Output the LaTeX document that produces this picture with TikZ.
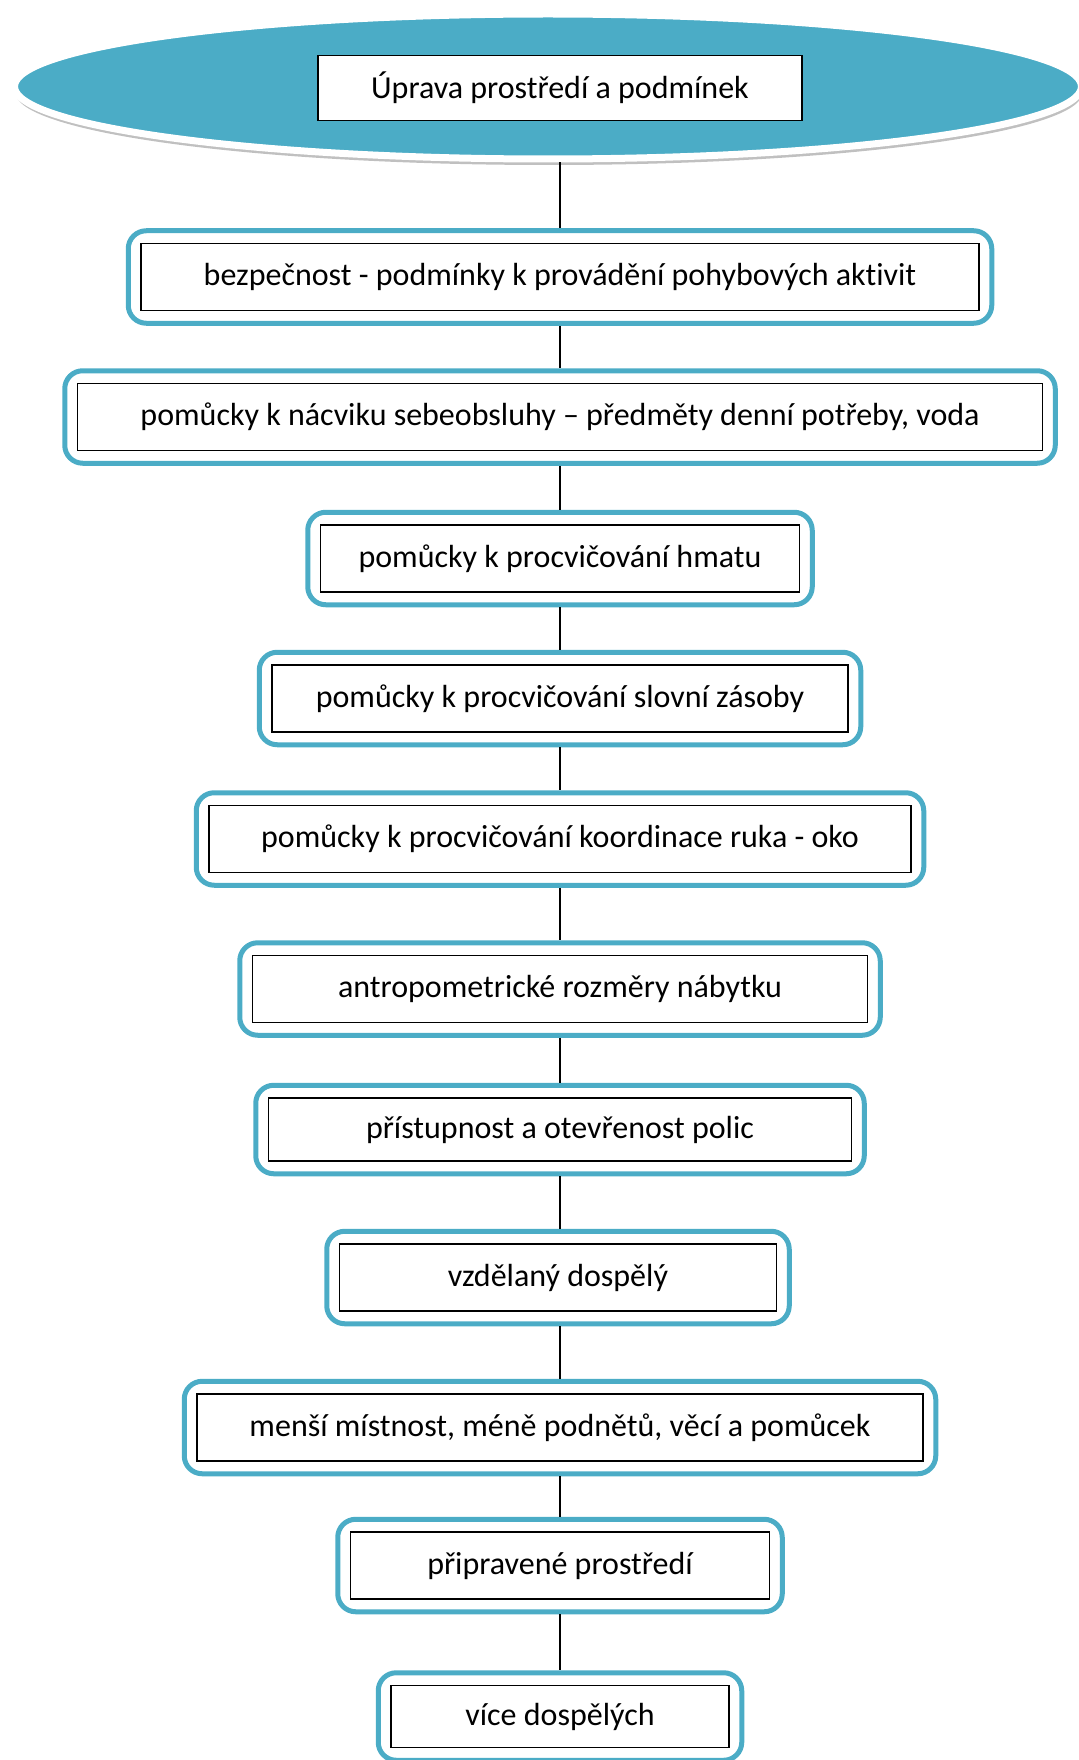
\documentclass[tikz,border=0pt]{standalone}
\usepackage{fontspec}
\setmainfont[Ligatures=NoCommon]{Carlito}
\usetikzlibrary{shapes.geometric,shadows,fit,positioning}
\definecolor{AccentTeal}{RGB}{75,172,198}
\tikzset{
  ibox/.style={draw=black,fill=white,line width=0.75pt,minimum height=33.5pt,
               inner sep=0pt,font=\fontsize{16}{19}\selectfont,text centered},
  obox/.style={draw=AccentTeal,rounded corners=9pt,line width=2.5pt,inner sep=6pt},
  ellbox/.style={ellipse,fill=AccentTeal,draw=white,line width=3.5pt,
               minimum width=533.5pt,minimum height=72.5pt,
               drop shadow={shadow xshift=0.5pt,shadow yshift=-3pt,opacity=0.45,fill=black!55}},
  conn/.style={black,line width=0.75pt},
}

\begin{document}
\begin{tikzpicture}[x=0.5pt,y=-0.5pt]
  \useasboundingbox (0,0) rectangle (1079,1760);
  \clip (0,0) rectangle (1079,1760);
  \node[ellbox] (e) at (548,86.5) {};
  \node[ibox,minimum width=242pt,minimum height=32.5pt] (t) at (560,88) {Úprava prostředí a podmínek};
  \node[ibox,minimum width=419pt] (a) at (560,277) {bezpečnost - podmínky k provádění pohybových aktivit};
  \node[ibox,minimum width=482.5pt] (b) at (560,417) {pomůcky k nácviku sebeobsluhy – předměty denní potřeby, voda};
  \node[ibox,minimum width=239.5pt] (c) at (560,558.5) {pomůcky k procvičování hmatu};
  \node[ibox,minimum width=288pt] (d) at (560,698.5) {pomůcky k procvičování slovní zásoby};
  \node[ibox,minimum width=351pt] (f) at (560,839) {pomůcky k procvičování koordinace ruka - oko};
  \node[ibox,minimum width=307.5pt] (g) at (560,989) {antropometrické rozměry nábytku};
  \node[ibox,minimum width=291.5pt,minimum height=31.5pt] (h) at (560,1129.5) {přístupnost a otevřenost polic};
  \node[ibox,minimum width=218.5pt] (i) at (558,1277.5) {vzdělaný dospělý};
  \node[ibox,minimum width=363pt] (j) at (560,1427.5) {menší místnost, méně podnětů, věcí a pomůcek};
  \node[ibox,minimum width=209.5pt] (k) at (560,1565.5) {připravené prostředí};
  \node[ibox,minimum width=169pt,minimum height=31pt] (l) at (560,1716.5) {více dospělých};
  \node[obox,fit=(a)] (oa) {}; \node[obox,fit=(b)] (ob) {}; \node[obox,fit=(c)] (oc) {};
  \node[obox,fit=(d)] (od) {}; \node[obox,fit=(f)] (of) {}; \node[obox,fit=(g)] (og) {};
  \node[obox,fit=(h)] (oh) {}; \node[obox,fit=(i)] (oi) {}; \node[obox,fit=(j)] (oj) {};
  \node[obox,fit=(k)] (ok) {}; \node[obox,fit=(l)] (ol) {};
  \draw[conn] (oa.north |- e.south)--(oa.north);
  \draw[conn] (oa)--(ob); \draw[conn] (ob)--(oc); \draw[conn] (oc)--(od);
  \draw[conn] (od)--(of); \draw[conn] (of)--(og); \draw[conn] (og)--(oh);
  \draw[conn] (oh)--(oi.north -| oh.south); \draw[conn] (oi.south -| oj.north)--(oj); \draw[conn] (oj)--(ok);
  \draw[conn] (ok)--(ol);
\end{tikzpicture}
\end{document}
